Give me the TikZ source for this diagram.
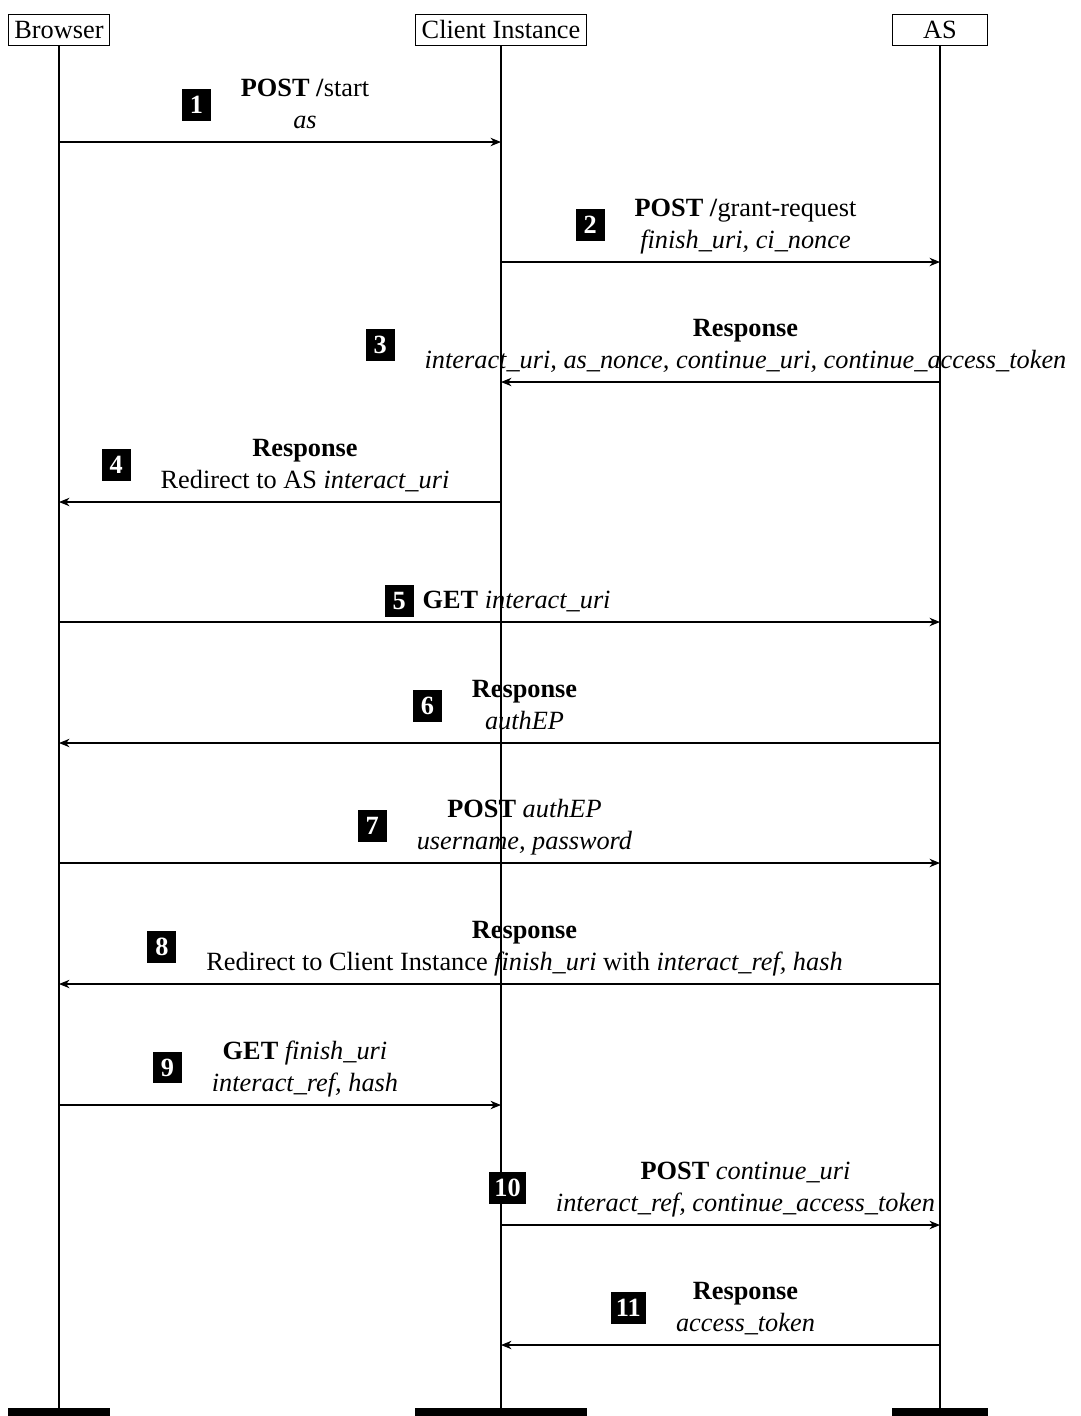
\documentclass[tikz,border=0pt]{standalone}
\usepackage{fontspec}
\setmainfont{Liberation Serif}
\usetikzlibrary{positioning,arrows.meta}

\tikzset{
  actor/.style={draw, minimum width=36pt, inner xsep=2.3pt, inner ysep=1.5pt, text height=7.8pt, text depth=1.2pt},
  lifeline/.style={line width=0.6pt},
  msg/.style={-{Stealth[length=4pt,width=3.2pt]}, line width=0.4pt},
  msglabel/.style={above, align=center, inner xsep=0pt, inner ysep=2pt, text depth=3pt, xshift=9.5pt},
  numbox/.style={fill=black, text=white, font=\bfseries, inner xsep=2pt, inner ysep=0pt, minimum width=11pt, minimum height=12pt, yshift=1pt},
}

\begin{document}
\begin{tikzpicture}[x=0.38pt, y=-0.38pt]
\useasboundingbox (0,0) rectangle (1081,1416);

% actors
\node[actor] (browser) at (59,30) {Browser};
\node[actor] (client) at (501,30) {Client Instance};
\node[actor] (authsrv) at (940,30) {AS};

% levels of the messages
\coordinate (m1) at (0,142);
\coordinate (m2) at (0,262);
\coordinate (m3) at (0,382);
\coordinate (m4) at (0,502);
\coordinate (m5) at (0,622);
\coordinate (m6) at (0,743);
\coordinate (m7) at (0,863);
\coordinate (m8) at (0,984);
\coordinate (m9) at (0,1105);
\coordinate (m10) at (0,1225);
\coordinate (m11) at (0,1345);
\coordinate (bot) at (0,1408);
\coordinate (end) at (0,1416);

% lifelines
\foreach \a in {browser, client, authsrv} {
  \draw[lifeline] (\a) -- (\a |- bot);
  \fill (\a.west |- bot) rectangle (\a.east |- end);
}

% messages
\draw[msg] (browser |- m1) -- (client |- m1) node[msglabel, midway] (t1) {\textbf{POST /}start\\ \textit{as}};
\node[numbox, left=11pt of t1] (n1) {1};

\draw[msg] (client |- m2) -- (authsrv |- m2) node[msglabel, midway] (t2) {\textbf{POST /}grant-request\\ \textit{finish\_uri, ci\_nonce}};
\node[numbox, left=11pt of t2] (n2) {2};

\draw[msg] (authsrv |- m3) -- (client |- m3) node[msglabel, midway] (t3) {\textbf{Response}\\ \textit{interact\_uri, as\_nonce, continue\_uri, continue\_access\_token}};
\node[numbox, left=11pt of t3] (n3) {3};

\draw[msg] (client |- m4) -- (browser |- m4) node[msglabel, midway] (t4) {\textbf{Response}\\ Redirect to AS \textit{interact\_uri}};
\node[numbox, left=11pt of t4] (n4) {4};

\draw[msg] (browser |- m5) -- (authsrv |- m5) node[msglabel, midway, xshift=-3pt] (t5) {\textbf{GET} \textit{interact\_uri}};
\node[numbox, left=3pt of t5] (n5) {5};

\draw[msg] (authsrv |- m6) -- (browser |- m6) node[msglabel, midway] (t6) {\textbf{Response}\\ \textit{authEP}};
\node[numbox, left=11pt of t6] (n6) {6};

\draw[msg] (browser |- m7) -- (authsrv |- m7) node[msglabel, midway] (t7) {\textbf{POST} \textit{authEP}\\ \textit{username, password}};
\node[numbox, left=11pt of t7] (n7) {7};

\draw[msg] (authsrv |- m8) -- (browser |- m8) node[msglabel, midway] (t8) {\textbf{Response}\\ Redirect to Client Instance \textit{finish\_uri} with \textit{interact\_ref, hash}};
\node[numbox, left=11pt of t8] (n8) {8};

\draw[msg] (browser |- m9) -- (client |- m9) node[msglabel, midway] (t9) {\textbf{GET} \textit{finish\_uri}\\ \textit{interact\_ref, hash}};
\node[numbox, left=11pt of t9] (n9) {9};

\draw[msg] (client |- m10) -- (authsrv |- m10) node[msglabel, midway] (t10) {\textbf{POST} \textit{continue\_uri}\\ \textit{interact\_ref, continue\_access\_token}};
\node[numbox, left=11pt of t10] (n10) {10};

\draw[msg] (authsrv |- m11) -- (client |- m11) node[msglabel, midway] (t11) {\textbf{Response}\\ \textit{access\_token}};
\node[numbox, left=11pt of t11] (n11) {11};
\end{tikzpicture}
\end{document}
